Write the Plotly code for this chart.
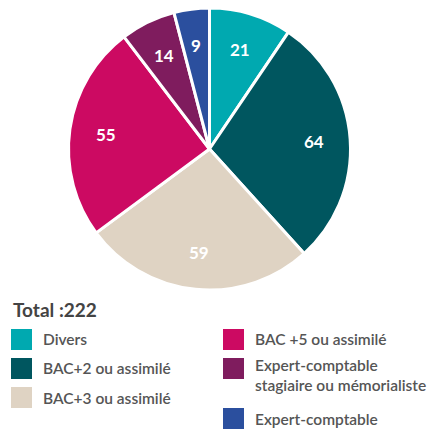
import math
import plotly.graph_objects as go

categories = ["Divers", "BAC+2 ou assimilé", "BAC+3 ou assimilé", "BAC +5 ou assimilé",
              "Expert-comptable<br>stagiaire ou mémorialiste", "Expert-comptable"]
values = [21, 64, 59, 55, 14, 9]
colors = ["#00A9B0", "#00565F", "#DFD3C3", "#CC0A62", "#7F1C5E", "#2B4F9E"]
total_label = "Total :222"

OFF = 8  # page body margin
W, H = 443 - OFF, 430 - OFF
FONT = "Lato, Roboto, sans-serif"


def px(x):
    return (x - OFF) / W


def py(y):
    return min(1.0, max(0.0, 1 - (y - OFF) / H))


# pie geometry (window pixels)
CX, CY, R = 209.5, 149, 141

fig = go.Figure(go.Pie(
    labels=categories, values=values, sort=False, direction="clockwise", rotation=0,
    marker=dict(colors=colors, line=dict(color="white", width=3)),
    textinfo="none",
    domain=dict(x=[px(CX - R), px(CX + R)], y=[py(CY + R), py(CY - R)]),
    showlegend=False, hoverinfo="label+value",
))

shapes, annots = [], []
# slice value labels placed along each slice's mid angle
total = sum(values)
cum = 0
for v in values:
    mid = (cum + v / 2) / total * 2 * math.pi
    cum += v
    lx = CX + 0.74 * R * math.sin(mid)
    ly = CY - 0.74 * R * math.cos(mid)
    annots.append(dict(x=px(lx), y=py(ly), xref="paper", yref="paper", text=str(v),
                       showarrow=False, xanchor="center", yanchor="middle",
                       font=dict(size=17, color="white", family=FONT, weight="bold")))

annots.append(dict(x=px(11), y=py(309), xref="paper", yref="paper", text=total_label,
                   showarrow=False, xanchor="left", yanchor="middle",
                   font=dict(size=19, color="#444444", family=FONT, weight="bold")))
# legend layout: (square x0, square top y, text center y) in window pixels
legend_pos = [(11, 329, 339), (11, 358, 368), (11, 387, 398),
              (223, 329, 339), (223, 358, 375), (223, 408, 419)]
for cat, col, (sx, sy, ty) in zip(categories, colors, legend_pos):
    shapes.append(dict(type="rect", xref="paper", yref="paper",
                       x0=px(sx), x1=px(sx + 21), y0=py(sy + 21), y1=py(sy),
                       fillcolor=col, line=dict(width=0)))
    annots.append(dict(x=px(sx + 30), y=py(ty), xref="paper", yref="paper", text=cat,
                       showarrow=False, xanchor="left", yanchor="middle", align="left",
                       font=dict(size=15.5, color="#555555", family=FONT, weight=600)))

fig.update_layout(width=W, height=H, margin=dict(l=0, r=0, t=0, b=0),
                  paper_bgcolor="white", plot_bgcolor="white",
                  shapes=shapes, annotations=annots)
fig.write_html("out.html")
